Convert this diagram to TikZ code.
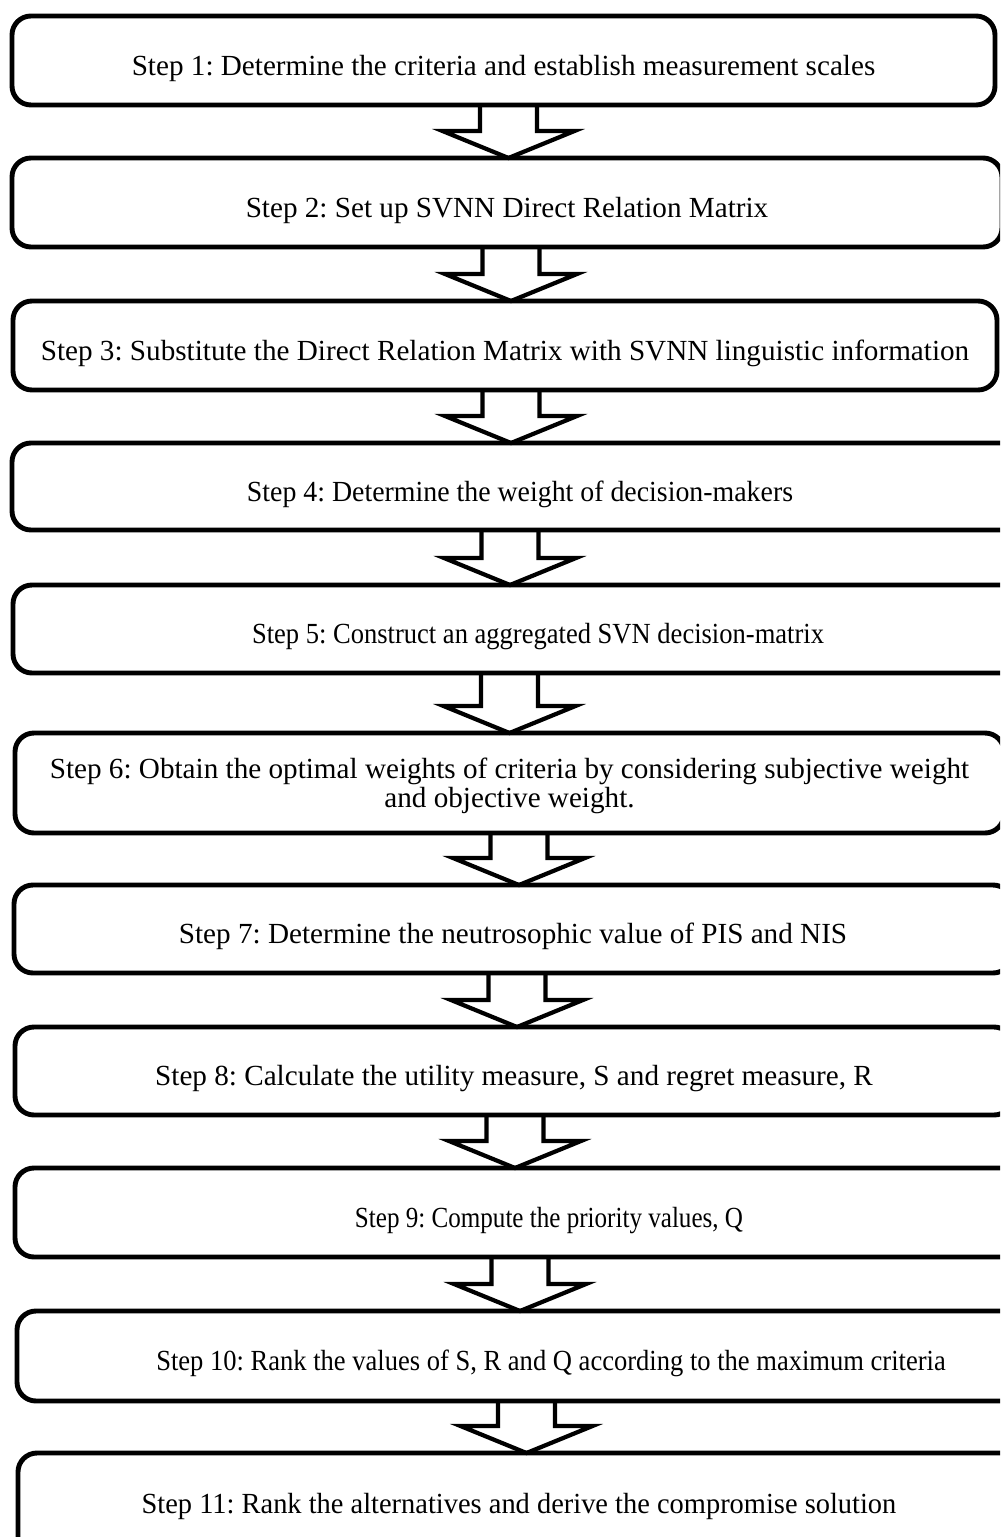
\documentclass[tikz,border=0pt]{standalone}
\usepackage{fontspec}
\setmainfont{Liberation Serif}
\frenchspacing
\usetikzlibrary{calc}

% squeeze a line to the width it has in the original
\newcommand{\squeeze}[2]{\scalebox{#1}[1]{#2}}

\begin{document}
\begin{tikzpicture}[x=0.02cm, y=-0.02cm,
	stepbox/.style={draw, line width=2.8pt, rounded corners=0.38cm, outer sep=0pt, inner sep=0pt,
		align=center, font=\fontsize{16.6}{16.5}\selectfont, text height=17pt, text depth=0pt},
	flowarrow/.style={draw, line width=2.4pt}]

% one unit is one pixel of the 1000 x 1537 page
\def \ux{0.02cm}

\useasboundingbox (0,0) rectangle (1000,1537);
\clip (0,0) rectangle (1000,1537);

\node[stepbox, minimum width=983*\ux,  minimum height=89*\ux]  (s1)  at (503.5, 60.5) {Step 1: Determine the criteria and establish measurement scales};
\node[stepbox, minimum width=990*\ux,  minimum height=89*\ux]  (s2)  at (507, 202.5)  {Step 2: Set up SVNN Direct Relation Matrix};
\node[stepbox, minimum width=984*\ux,  minimum height=89*\ux]  (s3)  at (505, 345.5)  {Step 3: Substitute the Direct Relation Matrix with SVNN linguistic information};
\node[stepbox, minimum width=1016*\ux, minimum height=87*\ux]  (s4)  at (520, 486.5)  {\squeeze{0.955}{Step 4: Determine the weight of decision-makers}};
\node[stepbox, minimum width=1050*\ux, minimum height=88*\ux]  (s5)  at (538, 629)    {\squeeze{0.91}{Step 5: Construct an aggregated SVN decision-matrix}};
\node[stepbox, minimum width=989*\ux,  minimum height=100*\ux, text height=27.4pt] (s6) at (509.5, 783)
	{Step 6: Obtain the optimal weights of criteria by considering subjective weight\\ and objective weight.};
\node[stepbox, minimum width=998*\ux,  minimum height=88*\ux]  (s7)  at (513, 929)    {Step 7: Determine the neutrosophic value of PIS and NIS};
\node[stepbox, minimum width=998*\ux,  minimum height=88*\ux]  (s8)  at (514, 1071)   {Step 8: Calculate the utility measure, S and regret measure, R};
\node[stepbox, minimum width=1068*\ux, minimum height=89*\ux]  (s9)  at (549, 1212.5) {\squeeze{0.86}{Step 9: Compute the priority values, Q}};
\node[stepbox, minimum width=1068*\ux, minimum height=90*\ux]  (s10) at (551, 1356)   {\squeeze{0.91}{Step 10: Rank the values of S, R and Q according to the maximum criteria}};
\node[stepbox, minimum width=1002*\ux, minimum height=110*\ux, text height=5.7pt] (s11) at (519, 1508)
	{\squeeze{0.975}{Step 11: Rank the alternatives and derive the compromise solution}};

% hollow block arrows, upper box / lower box / x of the arrow
\foreach \a/\b/\cx in {s1/s2/508.5, s2/s3/511, s3/s4/511, s4/s5/510, s5/s6/509.5,
                       s6/s7/519, s7/s8/517, s8/s9/515, s9/s10/520, s10/s11/526.5} {
	\coordinate (ax) at (\cx, 0);
	\draw[flowarrow] ($(\a.south -| ax) + (-28.5, 0)$) -- ($(\b.north -| ax) + (-28.5, -27)$) -- ++(-37.5, 0)
		-- (\b.north -| ax) -- ($(\b.north -| ax) + (66, -27)$) -- ++(-37.5, 0) -- ($(\a.south -| ax) + (28.5, 0)$);
}

\end{tikzpicture}
\end{document}
